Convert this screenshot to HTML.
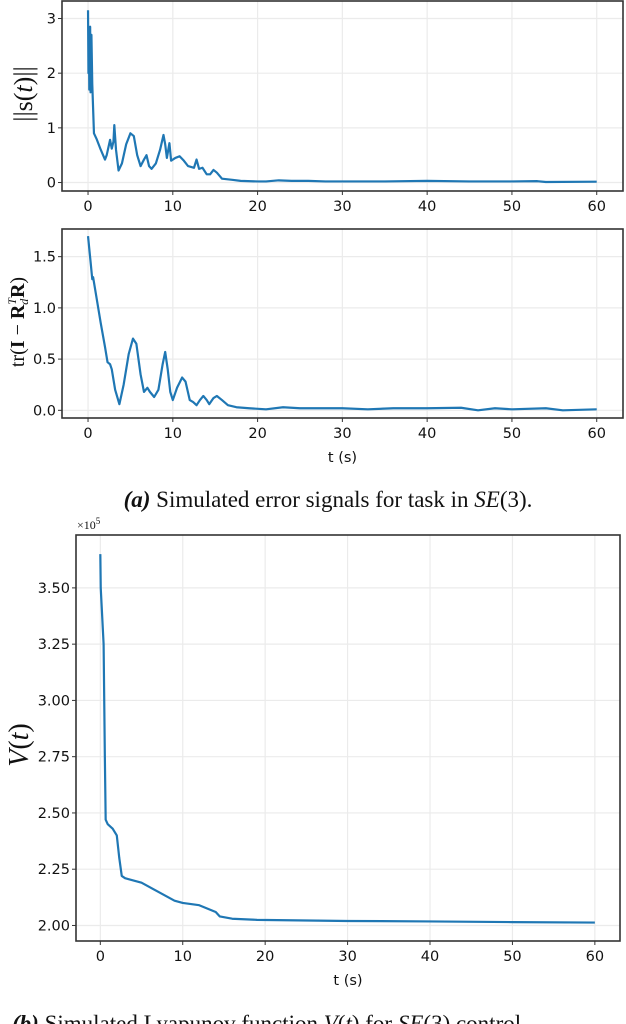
<!DOCTYPE html>
<html><head><meta charset="utf-8"><style>
body{margin:0;background:#fff}
svg{display:block}
.tk{font-family:"DejaVu Sans",sans-serif;font-size:14.5px;fill:#111}
.mth{font-family:"Liberation Serif",serif;fill:#111}
.cap{font-family:"Liberation Serif",serif;font-size:23px;fill:#111}
</style></head><body>
<svg id="fig" width="626" height="1024" viewBox="0 0 626 1024">
<text class="cap" x="328" y="507" text-anchor="middle"><tspan font-weight="bold" font-style="italic">(a)</tspan> Simulated error signals for task in <tspan font-style="italic">SE</tspan>(3).</text>
<text class="cap" x="12" y="1031"><tspan font-weight="bold" font-style="italic">(b)</tspan> Simulated Lyapunov function <tspan font-style="italic">V</tspan>(<tspan font-style="italic">t</tspan>) for <tspan font-style="italic">SE</tspan>(3) control</text>
</svg>
<script>
const s1T=[0,0.05,0.1,0.15,0.25,0.3,0.4,0.5,0.7,1.0,1.5,2.0,2.2,2.6,2.8,3.0,3.1,3.3,3.6,4.0,4.5,5.0,5.4,5.8,6.2,6.6,6.9,7.2,7.5,8.0,8.5,8.9,9.1,9.3,9.6,9.8,10.3,10.8,11.3,11.8,12.5,12.8,13.1,13.5,14.0,14.4,14.8,15.2,15.8,17,18,20,21,22.5,24,26,28,30,35,40,45,50,53,54,60];
const s1V=[3.15,2.0,2.8,1.7,2.85,1.65,2.7,1.8,0.9,0.8,0.6,0.42,0.5,0.78,0.62,0.75,1.05,0.6,0.22,0.35,0.7,0.9,0.85,0.5,0.3,0.42,0.5,0.3,0.25,0.35,0.6,0.87,0.7,0.45,0.72,0.4,0.45,0.48,0.4,0.3,0.27,0.42,0.25,0.27,0.15,0.15,0.23,0.18,0.07,0.05,0.03,0.02,0.02,0.04,0.03,0.03,0.02,0.02,0.02,0.03,0.02,0.02,0.025,0.01,0.015];
const s2T=[0,0.3,0.5,0.6,1,1.5,2,2.3,2.6,2.8,3.2,3.7,4.2,4.8,5.3,5.7,6.2,6.6,7,7.3,7.8,8.3,8.8,9.1,9.4,9.7,10.0,10.5,11.1,11.5,12.0,12.4,12.8,13.2,13.6,14.0,14.3,14.8,15.2,15.8,16.5,17.5,19,21,23,25,30,33,36,40,44,46,48,50,54,56,60];
const s2V=[1.7,1.45,1.28,1.3,1.1,0.85,0.62,0.47,0.45,0.4,0.2,0.06,0.25,0.55,0.7,0.65,0.35,0.18,0.22,0.18,0.13,0.2,0.45,0.57,0.4,0.18,0.1,0.22,0.32,0.28,0.1,0.08,0.05,0.1,0.14,0.1,0.06,0.12,0.14,0.1,0.05,0.03,0.02,0.01,0.03,0.02,0.02,0.01,0.02,0.02,0.025,0.0,0.02,0.01,0.02,0.0,0.01];
const s3T=[0,0.05,0.4,0.55,0.65,0.9,1.5,2.0,2.3,2.6,3.0,5.0,6,7,9,10,12,14,14.5,16,19,30,40,50,60];
const s3V=[3.65,3.5,3.25,2.75,2.47,2.45,2.43,2.4,2.3,2.22,2.21,2.19,2.17,2.15,2.11,2.1,2.09,2.06,2.04,2.03,2.025,2.02,2.018,2.015,2.013];
const xTicks=[0,10,20,30,40,50,60];
const y1Ticks=[0,1,2,3];
const y2Ticks=[0,0.5,1.0,1.5];
const y2Labels=["0.0","0.5","1.0","1.5"];
const y3Ticks=[2.0,2.25,2.5,2.75,3.0,3.25,3.5];
const y3Labels=["2.00","2.25","2.50","2.75","3.00","3.25","3.50"];

const NS="http://www.w3.org/2000/svg";
const svg=document.getElementById('fig');
function mk(tag,attrs,parent){const e=document.createElementNS(NS,tag);for(const k in attrs)e.setAttribute(k,attrs[k]);(parent||svg).appendChild(e);return e;}

function panel(name,box,xd,yd,T,V,yt,yl,xlabel){
  const g=mk('g',{});
  
  
  const sx=v=>box.l+(v-xd[0])/(xd[1]-xd[0])*(box.r-box.l);
  const sy=v=>box.b-(v-yd[0])/(yd[1]-yd[0])*(box.b-box.t);
  xTicks.forEach(v=>{
    const gl=mk('line',{x1:sx(v),x2:sx(v),y1:box.t,y2:box.b,stroke:'#ebebeb','stroke-width':1.2},g);
    
    
  });
  yt.forEach(v=>{
    const gl=mk('line',{x1:box.l,x2:box.r,y1:sy(v),y2:sy(v),stroke:'#ebebeb','stroke-width':1.2},g);
    
    
  });
  const d=T.map((t,i)=>(i?'L':'M')+sx(t).toFixed(2)+','+sy(V[i]).toFixed(2)).join('');
  const p=mk('path',{d:d,fill:'none',stroke:'#1f77b4','stroke-width':2.2,'stroke-linejoin':'round'},g);
  
  
  const fr=mk('rect',{x:box.l,y:box.t,width:box.r-box.l,height:box.b-box.t,fill:'none',stroke:'#333','stroke-width':1.6},g);
  
  
  xTicks.forEach(v=>{
    mk('line',{x1:sx(v),x2:sx(v),y1:box.b,y2:box.b+4,stroke:'#333','stroke-width':1},g);
    const t=mk('text',{x:sx(v),y:box.b+20,'text-anchor':'middle',class:'tk'},g);
    
    
    t.textContent=v;
  });
  yt.forEach((v,i)=>{
    mk('line',{x1:box.l-4,x2:box.l,y1:sy(v),y2:sy(v),stroke:'#333','stroke-width':1},g);
    const t=mk('text',{x:box.l-6,y:sy(v)+5,'text-anchor':'end',class:'tk'},g);
    
    
    t.textContent=yl[i];
  });
  if(xlabel){
    const t=mk('text',{x:(box.l+box.r)/2,y:box.b+44,'text-anchor':'middle',class:'tk','font-size':'17'},g);
    
    
    t.textContent='t (s)';
  }
  return g;
}
panel('panel-error-norm',{l:62,r:623,t:1,b:191},[-3.07,63.1],[-0.155,3.32],s1T,s1V,y1Ticks,y1Ticks.map(String),false);
panel('panel-rotation-error',{l:62,r:623,t:229,b:418},[-3.07,63.1],[-0.075,1.77],s2T,s2V,y2Ticks,y2Labels,true);
panel('panel-lyapunov',{l:76,r:620,t:535,b:941},[-2.95,63.05],[1.931,3.735],s3T,s3V,y3Ticks,y3Labels,true);

let t=mk('text',{x:0,y:0,class:'mth','font-size':'26',transform:'translate(32,94) rotate(-90)','text-anchor':'middle'});


t.innerHTML='||s(<tspan font-style="italic">t</tspan>)||';
t=mk('text',{x:0,y:0,class:'mth','font-size':'20',transform:'translate(24,322) rotate(-90)','text-anchor':'middle'});


t.innerHTML='tr(<tspan font-weight="bold">I</tspan> − <tspan font-weight="bold">R</tspan><tspan font-size="12" dy="4" font-style="italic">d</tspan><tspan font-size="12" dy="-12" dx="-6" font-style="italic">T</tspan><tspan dy="8" font-weight="bold">R</tspan>)';
t=mk('text',{x:0,y:0,class:'mth','font-size':'28',transform:'translate(28,745) rotate(-90)','text-anchor':'middle'});


t.innerHTML='<tspan font-style="italic">V</tspan>(<tspan font-style="italic">t</tspan>)';
t=mk('text',{x:77,y:529,class:'mth','font-size':'12'});


t.innerHTML='×10<tspan font-size="9" dy="-5">5</tspan>';
</script>
</body></html>
